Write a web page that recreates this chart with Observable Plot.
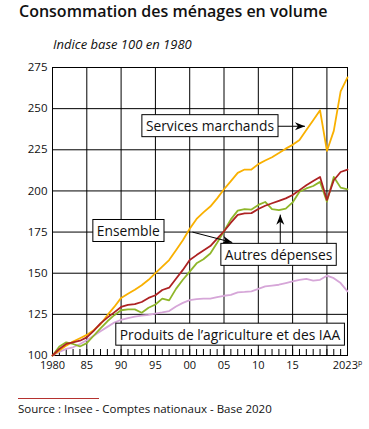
<!DOCTYPE html>
<html><head><meta charset="utf-8">
<script src="https://cdn.jsdelivr.net/npm/d3@7"></script>
<script src="https://cdn.jsdelivr.net/npm/@observablehq/plot@0.6"></script>
<style>
body{margin:0;background:#fff;font-family:"Open Sans",sans-serif;}
#wrap{position:relative;width:369px;height:429px;overflow:hidden;background:#fff}
.t{position:absolute;white-space:nowrap;line-height:1}
#title{left:19px;top:3px;font-size:16px;font-weight:600;color:#111}
#sub{left:53px;top:38px;font-size:13px;font-style:italic;color:#111}
#rule{position:absolute;left:18px;top:398px;width:81px;height:1px;background:#b5322f}
#src{left:18px;top:403px;font-size:11.5px;color:#111}
#chart{position:absolute;left:0;top:0}
</style></head><body>
<div id="wrap">
<div id="chart"></div>
<div class="t" id="title">Consommation des ménages en volume</div>
<div class="t" id="sub">Indice base 100 en 1980</div>
<div id="rule"></div>
<div class="t" id="src">Source : Insee - Comptes nationaux - Base 2020</div>
</div>
<script>
const years = [1980,1981,1982,1983,1984,1985,1986,1987,1988,1989,1990,1991,1992,1993,1994,1995,1996,1997,1998,1999,2000,2001,2002,2003,2004,2005,2006,2007,2008,2009,2010,2011,2012,2013,2014,2015,2016,2017,2018,2019,2020,2021,2022,2023];
const services = [100,103,106,108.5,110.5,112.5,115.4,119,124.5,129.5, 135,137.5,140,142.7,146,150,154,158,164,170, 177,183,187,190.5,195.5,201,206,211,213,213, 216.3,218.5,220.5,223,225.7,228,231,237,243,249, 224.3,236.5,260.5,269];
const ensemble = [100,104,107,108,109,111,115,119.5,123,126.2, 129.5,130.7,131.2,132.5,135,136.6,139.8,141.2,146.6,152, 158,161,163.8,166.5,171,175.5,180.7,185.5,186.3,186.5, 189,191,192.5,194,195.5,197.5,200.5,203.5,206,208.5, 194.5,206.5,211.5,213];
const autres = [100,105.5,108,107,105.5,107.5,112,116.5,120.8,124.5, 127.5,128,128,126,129,131,134.6,133.5,140.5,146, 151,156,158.5,162,168.5,175.5,182.7,188,188.9,188.7, 191.5,193.3,189,188.3,189.2,193,199.5,201.5,203,205.5, 193.5,208.5,202,201];
const produits = [100,102.2,104,105,107,109.3,112,114.8,117.4,120, 121.7,122.7,123.6,124.2,124.7,125.5,126.2,127,129.8,132, 133.6,134.3,134.6,134.6,135.5,136.3,136.8,138.4,138.6,139, 140.5,142,142.5,143,144,145,146,146.5,145.5,146, 148.5,147,144,139];

const yTicks = [100,125,150,175,200,225,250,275];
const xGrid = [1985,1990,1995,2000,2005,2010,2015,2020];
const xLabelTicks = [1980,1985,1990,1995,2000,2005,2010,2015,2023];
const xLabelText = ["1980","85","90","95","00","05","10","15","2023"];
const lastTickSup = "p";

const annLabels = ["Services marchands","Ensemble","Autres dépenses","Produits de l’agriculture et des IAA"];
const annX = [2002.95, 1991.05, 2012.95, 2005.87];
const annY = [239.0, 175.3, 160.8, 112.3];

const arrowX1 = [2012.7, 2000.4, 2013.2];
const arrowY1 = [239.3, 175.0, 166.6];
const arrowX2 = [2016.8, 2006.2, 2013.2];
const arrowY2 = [239.3, 168.7, 185.6];

const colors = {services:"#f9b000", ensemble:"#ad2223", autres:"#8fb62a", produits:"#d6a6d8"};

const rows = arr => years.map((yr,i)=>({year:yr, v:arr[i]}));
const ann = annLabels.map((t,i)=>({t, x:annX[i], y:annY[i]}));
const arrows = arrowX1.map((x,i)=>({x1:x, y1:arrowY1[i], x2:arrowX2[i], y2:arrowY2[i]}));

const chart = Plot.plot({
  width: 369, height: 429,
  marginLeft: 52, marginRight: 22, marginTop: 67, marginBottom: 74,
  x: {domain: [1980, 2023], label: null},
  y: {domain: [100, 275], label: null},
  style: {fontFamily: "'Open Sans', sans-serif", fontSize: "11px", color: "#111", background: "transparent"},
  marks: [
    Plot.ruleY(yTicks, {stroke: "#000", strokeWidth: 1}),
    Plot.ruleX(xGrid, {stroke: "#000", strokeWidth: 1}),
    Plot.frame({stroke: "#000", strokeWidth: 1}),
    Plot.tickX(years, {x: d => d, stroke: "#000", strokeWidth: 1, insetTop: 282}),
    Plot.axisX({ticks: xLabelTicks, tickSize: 0, tickPadding: 6, fontSize: 11,
      tickFormat: d => xLabelText[xLabelTicks.indexOf(d)]}),
    Plot.axisY({ticks: yTicks, tickSize: 0, tickPadding: 5, fontSize: 11.5}),
    Plot.line(rows(produits), {x: "year", y: "v", stroke: colors.produits, strokeWidth: 1.8}),
    Plot.line(rows(services), {x: "year", y: "v", stroke: colors.services, strokeWidth: 1.8}),
    Plot.line(rows(autres), {x: "year", y: "v", stroke: colors.autres, strokeWidth: 1.8}),
    Plot.line(rows(ensemble), {x: "year", y: "v", stroke: colors.ensemble, strokeWidth: 1.8}),
    Plot.link(arrows, {x1: "x1", y1: "y1", x2: "x2", y2: "y2", stroke: "#000", strokeWidth: 1}),
    Plot.text(ann, {x: "x", y: "y", text: "t", fontSize: 13.8, fill: "#111"})
  ]
});
document.getElementById("chart").appendChild(chart);

const ns = "http://www.w3.org/2000/svg";
const defs = document.createElementNS(ns, "defs");
const mk = document.createElementNS(ns, "marker");
mk.setAttribute("id", "ah");
mk.setAttribute("viewBox", "-11 -5 12 10");
mk.setAttribute("markerWidth", "12");
mk.setAttribute("markerHeight", "10");
mk.setAttribute("refX", "0");
mk.setAttribute("refY", "0");
mk.setAttribute("orient", "auto");
mk.setAttribute("markerUnits", "userSpaceOnUse");
const mp = document.createElementNS(ns, "path");
mp.setAttribute("d", "M0,0L-10,-4L-7,0L-10,4Z");
mp.setAttribute("fill", "#000");
mp.setAttribute("stroke", "none");
mk.appendChild(mp);
defs.appendChild(mk);
chart.insertBefore(defs, chart.firstChild);
chart.querySelectorAll('g[aria-label="link"] path, g[aria-label="link"] line').forEach(p => p.setAttribute("marker-end", "url(#ah)"));

chart.querySelectorAll('g[aria-label="text"] text').forEach(t => {
  const b = t.getBBox();
  const r = document.createElementNS(ns, "rect");
  r.setAttribute("x", b.x - 4);
  r.setAttribute("y", b.y - 1.5);
  r.setAttribute("width", b.width + 8);
  r.setAttribute("height", b.height + 3);
  r.setAttribute("fill", "#fff");
  r.setAttribute("stroke", "#000");
  r.setAttribute("stroke-width", "1");
  const tr = t.getAttribute("transform");
  if (tr) r.setAttribute("transform", tr);
  t.parentNode.insertBefore(r, t);
});

// superscript "p" on the last x tick label
chart.querySelectorAll('g[aria-label="x-axis tick label"] text').forEach(t => {
  if (t.textContent === "2023") {
    const sp = document.createElementNS(ns, "tspan");
    sp.setAttribute("font-size", "7");
    sp.setAttribute("dy", "-4");
    sp.textContent = lastTickSup;
    t.appendChild(sp);
  }
});
</script>
</body></html>
